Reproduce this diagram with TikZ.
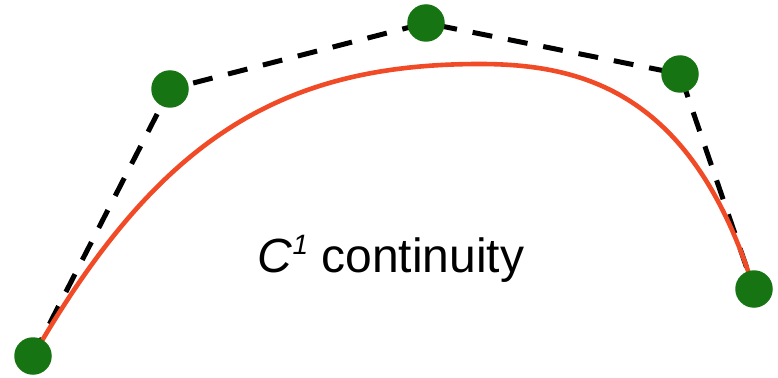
\documentclass[tikz,border=0pt]{standalone}
\usepackage{fontspec}
\setmainfont{Liberation Sans}
\usetikzlibrary{backgrounds}
\definecolor{dotgreen}{RGB}{22,116,18}
\definecolor{curvered}{RGB}{240,74,38}
\tikzset{
  ctrlpt/.style={circle, fill=dotgreen, draw=none, minimum size=37.5pt, inner sep=0pt},
  polyline/.style={line width=5pt, black, dash pattern=on 20pt off 16pt},
  redcurve/.style={line width=4.6pt, curvered},
}
\begin{document}
\begin{tikzpicture}[x=1pt,y=-1pt]
\useasboundingbox (0,0) rectangle (778,377);
\node[ctrlpt] (p0) at (33,356) {};
\node[ctrlpt] (p1) at (170,89) {};
\node[ctrlpt] (p2) at (426,23) {};
\node[ctrlpt] (p3) at (680,74) {};
\node[ctrlpt] (p4) at (754,289) {};
\coordinate (j) at (480,64);
\begin{scope}[on background layer]
\draw[polyline] (p0.center) -- (p1.center) -- (p2.center) -- (p3.center) -- (p4.center);
\draw[redcurve] (p0.center) .. controls (158,139.5) and (280,64) .. (j)
  .. controls (590,64) and (694,98) .. (p4.center);
\end{scope}
\node[anchor=base] (label) at (391,272) {\fontsize{48}{58}\selectfont\textit{C}\raisebox{0.36em}{\fontsize{28}{30}\selectfont\textit{1}}\hspace{0.28em}continuity};
\end{tikzpicture}
\end{document}
